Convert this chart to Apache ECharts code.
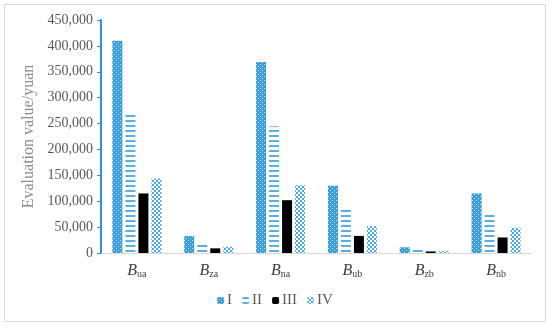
<!DOCTYPE html>
<html><head><meta charset="utf-8">
<script src="https://cdn.jsdelivr.net/npm/echarts@6/dist/echarts.min.js"></script>
<style>html,body{margin:0;padding:0;background:#fff}#c{width:550px;height:327px}</style>
</head><body><div id="c"></div>
<script>
var categories = [['B','ua'],['B','za'],['B','na'],['B','ub'],['B','zb'],['B','nb']];
var seriesNames = ['I','II','III','IV'];
var valuesI   = [410000, 33000, 369000, 130000, 11000, 115000];
var valuesII  = [270000, 17000, 245000, 86000, 7000, 78000];
var valuesIII = [115000, 9000, 102000, 33000, 3000, 30000];
var valuesIV  = [144000, 12000, 131000, 52000, 4000, 49000];
var yTicks = {min: 0, max: 450000, interval: 50000};

function pat(w, h, draw){
  var c = document.createElement('canvas'); c.width = w; c.height = h;
  var g = c.getContext('2d'); draw(g); return {image: c, repeat: 'repeat'};
}
var blue = '#3a9de0';
var pI = pat(4,4,function(g){g.fillStyle=blue;g.fillRect(0,0,4,4);g.fillStyle='#cfe6f7';g.fillRect(0,0,1,1);g.fillRect(2,2,1,1);});
var pII = pat(4,5,function(g){g.fillStyle='#fff';g.fillRect(0,0,4,5);g.fillStyle='#5aaee6';g.fillRect(0,0,4,2);});
var pIII = '#000';
var pIV = pat(4,4,function(g){g.fillStyle='#fff';g.fillRect(0,0,4,4);g.fillStyle='#4aa8e8';g.fillRect(0,0,2,2);g.fillRect(2,2,2,2);});

var font = '"Liberation Serif","DejaVu Serif",serif';
var chart = echarts.init(document.getElementById('c'));
var mk = function(name, data, color){
  return {name:name, type:'bar', data:data, barWidth:10, barGap:'30%', itemStyle:{color:color}};
};
chart.setOption({
  animation:false,
  graphic:[{type:'rect', shape:{x:4.5,y:4.5,width:541,height:317}, style:{fill:'none', stroke:'#d9d9d9', lineWidth:1}, silent:true}],
  grid:{left:101, right:18, top:20, bottom:74},
  legend:{bottom:14, left:'center', itemWidth:7, itemHeight:7, itemGap:10,
    textStyle:{fontFamily:font, fontSize:15, color:'#595959', padding:[0,0,0,-2]},
    data:seriesNames},
  xAxis:{type:'category', data:categories.map(function(c){return c[0]+'|'+c[1];}),
    axisLine:{lineStyle:{color:'#d9d9d9'}}, axisTick:{show:false},
    axisLabel:{interval:0, margin:9, formatter:function(v){var p=v.split('|');return '{b|'+p[0]+'}{s|'+p[1]+'}';},
      rich:{b:{fontFamily:font, fontStyle:'italic', fontSize:16, color:'#404040'},
            s:{fontFamily:font, fontSize:10, color:'#404040', padding:[7,0,0,0]}}}},
  yAxis:{type:'value', min:yTicks.min, max:yTicks.max, interval:yTicks.interval,
    name:'Evaluation value/yuan', nameLocation:'middle', nameGap:62, nameRotate:90,
    nameTextStyle:{fontFamily:font, fontSize:16, color:'#8c8c8c'},
    axisLine:{show:true, lineStyle:{color:'#2f8fd5', width:2}},
    axisTick:{show:true, length:4, lineStyle:{color:'#2f8fd5'}},
    splitLine:{show:false},
    axisLabel:{fontFamily:font, fontSize:14, color:'#595959', margin:8,
      formatter:function(v){return v.toLocaleString('en-US');}}},
  series:[mk('I',valuesI,pI), mk('II',valuesII,pII), mk('III',valuesIII,pIII), mk('IV',valuesIV,pIV)]
});
</script></body></html>
